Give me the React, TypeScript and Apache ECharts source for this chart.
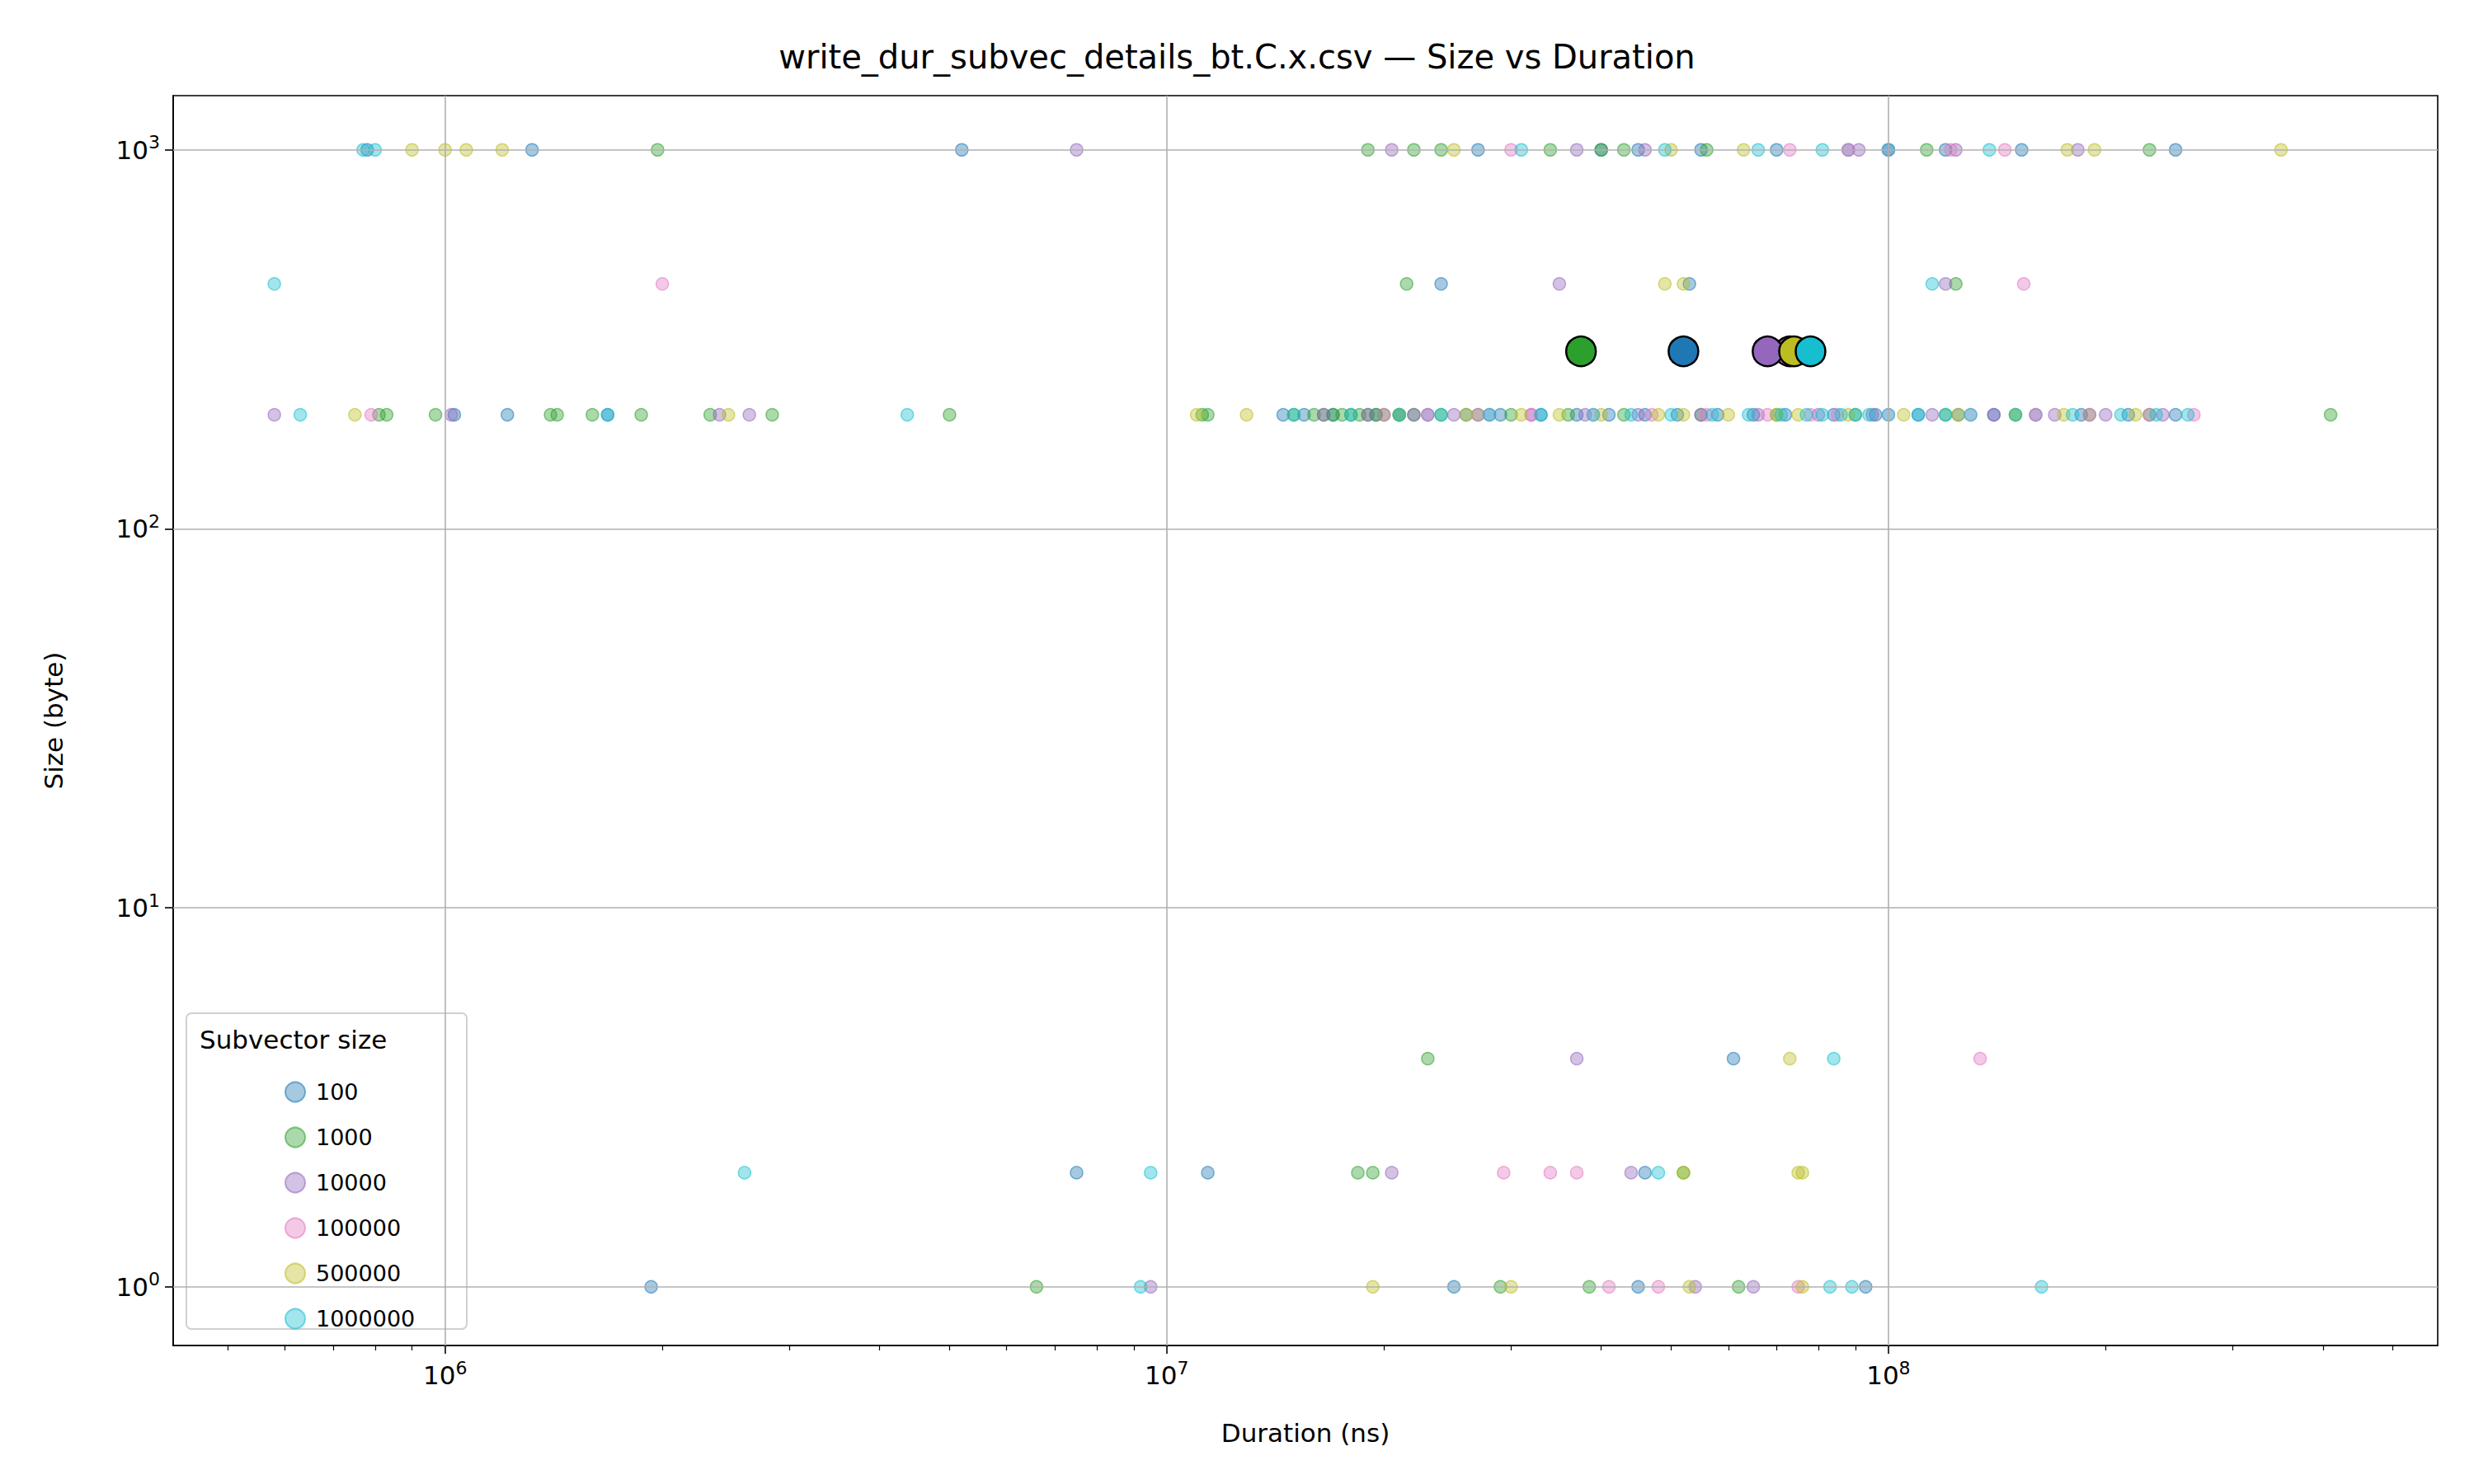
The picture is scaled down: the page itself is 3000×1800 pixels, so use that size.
import { useEffect, useRef } from 'react';
import * as echarts from 'echarts';

// subvector sizes and colours (matplotlib tab10 order)
const subSizes = ['100', '1000', '10000', '100000', '500000', '1000000'];
const colors = ['#1f77b4', '#2ca02c', '#9467bd', '#e377c2', '#bcbd22', '#17becf'];

// size rows (bytes)
const sizeRows = [1000, 443, 200, 4, 2, 1];

// durations (ns) per subvector size, one array per size row
const dur100 = [
  [0.78e6, 1.32e6, 5.2e6, 2.7e7, 4.0e7, 4.5e7, 5.5e7, 7.0e7, 8.8e7, 1.0e8, 1.2e8, 1.53e8, 2.5e8],
  [2.4e7, 5.3e7],
  [1.03e6, 1.22e6, 1.68e6, 1.45e7, 1.55e7, 1.7e7, 1.95e7, 2.1e7, 2.3e7, 2.6e7, 2.9e7, 3.3e7, 3.7e7, 4.1e7, 4.6e7, 5.1e7, 5.8e7, 6.5e7, 7.2e7, 8.4e7, 9.6e7, 1.1e8, 1.25e8, 1.4e8, 1.6e8, 1.85e8, 2.15e8, 2.5e8],
  [6.1e7],
  [7.5e6, 1.14e7, 4.6e7],
  [1.93e6, 2.5e7, 4.5e7, 9.3e7],
];
const dur1000 = [
  [1.97e6, 1.9e7, 2.2e7, 2.4e7, 3.4e7, 4.0e7, 4.3e7, 5.6e7, 1.13e8, 2.3e8],
  [2.15e7, 1.24e8],
  [0.81e6, 0.83e6, 0.97e6, 1.4e6, 1.43e6, 1.6e6, 1.87e6, 2.33e6, 2.84e6, 5.0e6, 1.12e7, 1.14e7, 1.5e7, 1.6e7, 1.65e7, 1.7e7, 1.75e7, 1.8e7, 1.85e7, 1.9e7, 1.95e7, 2.0e7, 2.1e7, 2.2e7, 2.4e7, 2.7e7, 3.0e7, 3.6e7, 4.3e7, 5.5e7, 7.0e7, 9.0e7, 1.2e8, 1.5e8, 1.9e8, 2.3e8, 4.1e8],
  [2.3e7],
  [1.84e7, 1.93e7, 5.2e7],
  [6.6e6, 2.9e7, 3.85e7, 6.2e7],
];
const dur10000 = [
  [7.5e6, 2.05e7, 3.7e7, 4.6e7, 9.1e7, 1.24e8, 1.83e8],
  [3.5e7, 1.2e8],
  [0.58e6, 1.02e6, 2.4e6, 2.64e6, 1.65e7, 1.9e7, 2.2e7, 2.5e7, 2.8e7, 3.2e7, 3.8e7, 4.5e7, 5.5e7, 6.6e7, 8.0e7, 9.5e7, 1.15e8, 1.4e8, 1.7e8, 2.0e8, 2.4e8],
  [3.7e7],
  [2.05e7, 4.4e7],
  [9.5e6, 5.4e7, 6.5e7],
];
const dur100000 = [
  [3.0e7, 7.3e7, 8.8e7, 1.0e8, 1.22e8, 1.45e8],
  [2.0e6, 1.54e8],
  [0.79e6, 2.0e7, 2.3e7, 2.7e7, 3.2e7, 3.9e7, 4.7e7, 5.6e7, 6.8e7, 7.8e7, 8.5e7, 1.0e8, 1.3e8, 1.6e8, 1.9e8, 2.3e8, 2.65e8],
  [1.34e8],
  [2.93e7, 3.4e7, 3.7e7],
  [4.1e7, 4.8e7, 7.5e7],
];
const dur500000 = [
  [0.9e6, 1.0e6, 1.07e6, 1.2e6, 2.5e7, 5.0e7, 6.3e7, 1.77e8, 1.93e8, 3.5e8],
  [4.9e7, 5.2e7],
  [0.75e6, 2.47e6, 1.1e7, 1.29e7, 2.1e7, 2.6e7, 3.1e7, 3.5e7, 4.0e7, 4.8e7, 5.2e7, 6.0e7, 7.0e7, 7.5e7, 8.8e7, 1.05e8, 1.25e8, 1.5e8, 1.75e8, 2.2e8],
  [7.3e7],
  [5.2e7, 7.5e7, 7.6e7],
  [1.93e7, 3.0e7, 5.3e7, 7.6e7],
];
const dur1000000 = [
  [0.77e6, 0.8e6, 3.1e7, 4.9e7, 6.6e7, 8.1e7, 1.0e8, 1.38e8],
  [0.58e6, 1.15e8],
  [0.63e6, 1.68e6, 4.37e6, 1.5e7, 1.8e7, 2.1e7, 2.4e7, 2.8e7, 3.3e7, 3.9e7, 4.4e7, 5.0e7, 5.7e7, 6.4e7, 7.1e7, 7.7e7, 8.1e7, 8.6e7, 9.0e7, 9.4e7, 1.0e8, 1.1e8, 1.2e8, 1.3e8, 1.5e8, 1.8e8, 2.1e8, 2.35e8, 2.6e8],
  [8.4e7],
  [2.6e6, 9.5e6, 4.8e7],
  [9.2e6, 8.3e7, 8.9e7, 1.63e8],
];
const allDurations = [dur100, dur1000, dur10000, dur100000, dur500000, dur1000000];

// mean markers (duration ns, size byte)
const meanDurations = [5.2e7, 3.75e7, 6.8e7, 7.3e7, 7.4e7, 7.8e7];
const meanSize = 294;
const meanOrder = [3, 0, 1, 2, 4, 5];

// axis range (log10)
const xMin = Math.log10(4.2e5);
const xMax = Math.log10(5.77e8);
const yMin = Math.log10(0.7);
const yMax = Math.log10(1390);
const xMajor = [6, 7, 8];
const yMajor = [0, 1, 2, 3];

const xMinor: number[] = [];
for (let n = 5; n <= 8; n++) {
  for (let k = 2; k <= 9; k++) {
    const v = Math.log10(k * Math.pow(10, n));
    if (v > xMin && v < xMax) xMinor.push(v);
  }
}

const hexA = (hex: string, a: number) => {
  const r = parseInt(hex.slice(1, 3), 16);
  const g = parseInt(hex.slice(3, 5), 16);
  const b = parseInt(hex.slice(5, 7), 16);
  return `rgba(${r},${g},${b},${a})`;
};

const powLabel = (v: number) => `{b|10}{s|${Math.round(v)}}`;
const rich = {
  b: { fontSize: 31, color: '#000', fontFamily: 'DejaVu Sans' },
  s: { fontSize: 22, color: '#000', fontFamily: 'DejaVu Sans', padding: [0, 0, 18, 0] },
};

const G = { left: 210, right: 44, top: 116, bottom: 168 };

export default function App() {
  const ref = useRef<HTMLDivElement>(null);

  useEffect(() => {
    if (!ref.current) return;
    document.body.style.margin = '0';
    const chart = echarts.init(ref.current, undefined, { renderer: 'svg' });

    const scatterSeries = subSizes.map((name, i) => {
      const data: number[][] = [];
      allDurations[i].forEach((row, r) => {
        row.forEach((d) => data.push([Math.log10(d), Math.log10(sizeRows[r])]));
      });
      return {
        name,
        type: 'scatter',
        symbolSize: 15,
        itemStyle: { color: hexA(colors[i], 0.5), borderColor: hexA(colors[i], 0.7), borderWidth: 1.5 },
        data,
        z: 3,
      };
    });

    const meanSeries = meanOrder.map((i) => ({
      name: 'mean-' + subSizes[i],
      type: 'scatter',
      symbolSize: 36,
      itemStyle: { color: colors[i], borderColor: '#000', borderWidth: 2.5, opacity: 1 },
      data: [[Math.log10(meanDurations[i]), Math.log10(meanSize)]],
      z: 5,
    }));

    const gridSeries = {
      name: 'grid',
      type: 'scatter',
      data: [],
      silent: true,
      markLine: {
        silent: true,
        symbol: 'none',
        label: { show: false },
        lineStyle: { color: '#b0b0b0', width: 1.6, type: 'solid' },
        data: [
          ...xMajor.map((v) => ({ xAxis: v })),
          ...yMajor.map((v) => ({ yAxis: v })),
        ],
      },
      z: 1,
    };

    chart.setOption({
      animation: false,
      backgroundColor: '#fff',
      title: {
        text: 'write_dur_subvec_details_bt.C.x.csv — Size vs Duration',
        left: 'center',
        top: 44,
        textStyle: { fontSize: 40, fontWeight: 'normal', color: '#000', fontFamily: 'DejaVu Sans' },
      },
      grid: G,
      xAxis: [
        {
          type: 'value',
          min: xMin,
          max: xMax,
          name: 'Duration (ns)',
          nameLocation: 'middle',
          nameGap: 90,
          nameTextStyle: { fontSize: 31, color: '#000', fontFamily: 'DejaVu Sans' },
          axisLine: { onZero: false, lineStyle: { color: '#000', width: 1.6 } },
          axisTick: { customValues: xMajor, length: 10, lineStyle: { color: '#000', width: 1.6 } },
          axisLabel: { customValues: xMajor, formatter: powLabel, rich, margin: 16 },
          splitLine: { show: false },
        },
        {
          type: 'value',
          min: xMin,
          max: xMax,
          position: 'bottom',
          axisLine: { show: false, onZero: false },
          axisTick: { customValues: xMinor, length: 6, lineStyle: { color: '#000', width: 1.2 } },
          axisLabel: { show: false },
          splitLine: { show: false },
        },
      ],
      yAxis: {
        type: 'value',
        min: yMin,
        max: yMax,
        name: 'Size (byte)',
        nameLocation: 'middle',
        nameGap: 130,
        nameTextStyle: { fontSize: 31, color: '#000', fontFamily: 'DejaVu Sans' },
        axisLine: { onZero: false, lineStyle: { color: '#000', width: 1.6 } },
        axisTick: { customValues: yMajor, length: 10, lineStyle: { color: '#000', width: 1.6 } },
        axisLabel: { customValues: yMajor, formatter: powLabel, rich, margin: 16 },
        splitLine: { show: false },
      },
      legend: {
        data: subSizes,
        orient: 'vertical',
        left: 340,
        top: 1306,
        z: 20,
        itemWidth: 24,
        itemHeight: 24,
        itemGap: 28,
        icon: 'circle',
        textStyle: { fontSize: 27, color: '#000', fontFamily: 'DejaVu Sans', padding: [0, 0, 0, 8] },
      },
      graphic: [
        {
          type: 'rect',
          z: 0,
          silent: true,
          shape: { x: G.left, y: G.top, width: 3000 - G.left - G.right, height: 1800 - G.top - G.bottom },
          style: { fill: 'none', stroke: '#000', lineWidth: 1.6 },
        },
        {
          type: 'rect',
          shape: { x: 226, y: 1229, width: 340, height: 383, r: 6 },
          style: { fill: 'rgba(255,255,255,0.85)', stroke: '#d0d0d0', lineWidth: 2 },
          z: 4,
        },
        {
          type: 'text',
          x: 242,
          y: 1245,
          style: { text: 'Subvector size', fontSize: 31, fill: '#000', fontFamily: 'DejaVu Sans' },
          z: 11,
        },
      ],
      series: [gridSeries, ...scatterSeries, ...meanSeries],
    });

    return () => chart.dispose();
  }, []);

  return <div ref={ref} style={{ width: 3000, height: 1800 }} />;
}
